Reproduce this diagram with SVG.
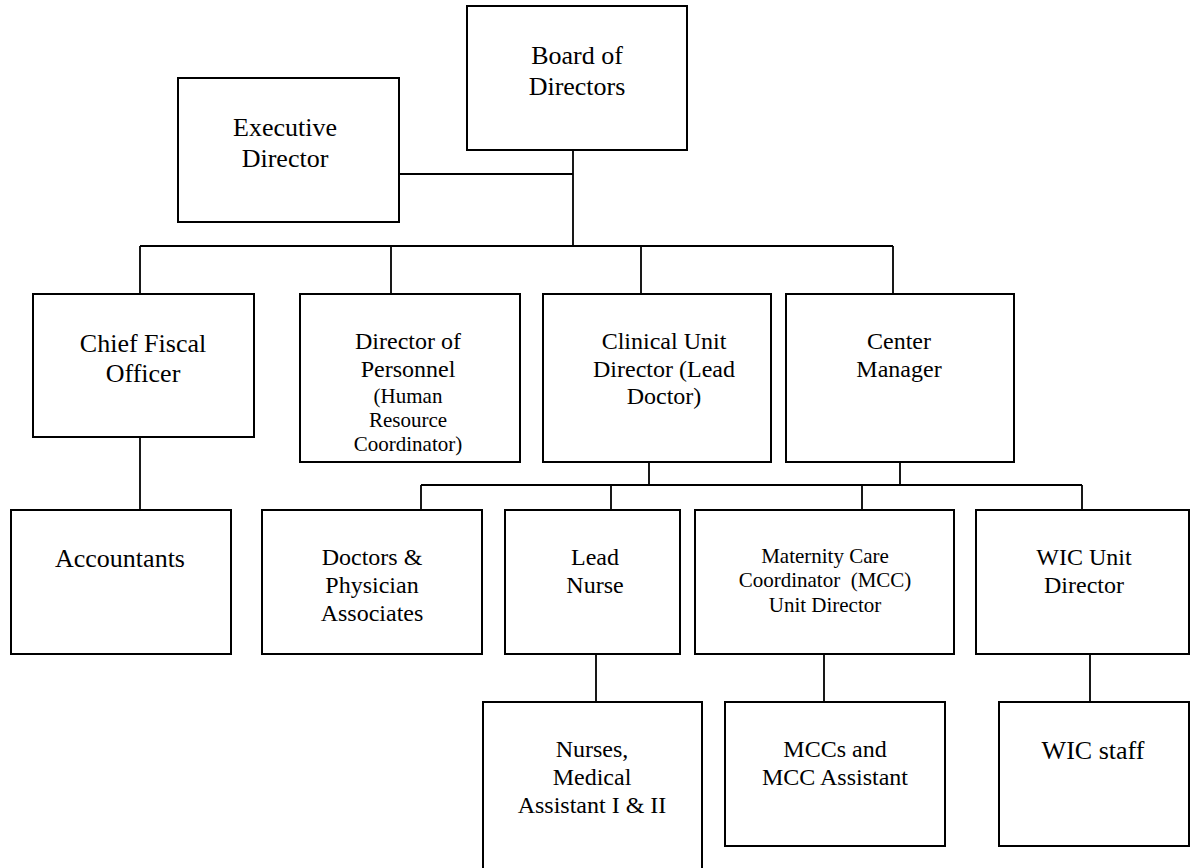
<svg xmlns="http://www.w3.org/2000/svg" width="1193" height="868" viewBox="0 0 1193 868">
<style>
.box{fill:#fff;stroke:#000;stroke-width:2}
.con{fill:none;stroke:#000;stroke-width:1.8}
text{font-family:"Liberation Serif","Times New Roman",serif;fill:#000;text-anchor:middle}
.f26{font-size:26px}
.f24{font-size:24px}
.f21{font-size:21px}
</style>
<rect width="1193" height="868" fill="#fff"/>
<g id="connectors">
<path class="con" d="M399 174H573M573 150V246M140 246H893M140 246V294M391 246V294M641 246V294M893 246V294"/>
<path class="con" d="M140 437V510"/>
<path class="con" d="M649 462V485M900 462V485M421 485H1082M421 485V510M611 485V510M862 485V510M1082 485V510"/>
<path class="con" d="M596 654V702M824 654V702M1090 654V702"/>
</g>
<g id="board"><rect class="box" x="467" y="6" width="220" height="144"/><text class="f26" x="577" y="64">Board of</text><text class="f26" x="577" y="95">Directors</text></g>
<g id="executive"><rect class="box" x="178" y="78" width="221" height="144"/><text class="f26" x="285" y="136">Executive</text><text class="f26" x="285" y="167">Director</text></g>
<g id="chief-fiscal"><rect class="box" x="33" y="294" width="221" height="143"/><text class="f26" x="143" y="352">Chief Fiscal</text><text class="f26" x="143" y="382">Officer</text></g>
<g id="director-personnel"><rect class="box" x="300" y="294" width="220" height="168"/><text class="f24" x="408" y="349">Director of</text><text class="f24" x="408" y="377">Personnel</text><text class="f21" x="408" y="403">(Human</text><text class="f21" x="408" y="427">Resource</text><text class="f21" x="408" y="451">Coordinator)</text></g>
<g id="clinical"><rect class="box" x="543" y="294" width="228" height="168"/><text class="f24" x="664" y="349">Clinical Unit</text><text class="f24" x="664" y="377">Director (Lead</text><text class="f24" x="664" y="404">Doctor)</text></g>
<g id="center-manager"><rect class="box" x="786" y="294" width="228" height="168"/><text class="f24" x="899" y="349">Center</text><text class="f24" x="899" y="377">Manager</text></g>
<g id="accountants"><rect class="box" x="11" y="510" width="220" height="144"/><text class="f26" x="120" y="567">Accountants</text></g>
<g id="doctors"><rect class="box" x="262" y="510" width="220" height="144"/><text class="f24" x="372" y="565">Doctors &amp;</text><text class="f24" x="372" y="593">Physician</text><text class="f24" x="372" y="621">Associates</text></g>
<g id="lead-nurse"><rect class="box" x="505" y="510" width="175" height="144"/><text class="f24" x="595" y="565">Lead</text><text class="f24" x="595" y="593">Nurse</text></g>
<g id="mcc-director"><rect class="box" x="695" y="510" width="259" height="144"/><text class="f21" x="825" y="563">Maternity Care</text><text class="f21" x="825" y="587" xml:space="preserve">Coordinator  (MCC)</text><text class="f21" x="825" y="612">Unit Director</text></g>
<g id="wic-director"><rect class="box" x="976" y="510" width="213" height="144"/><text class="f24" x="1084" y="565">WIC Unit</text><text class="f24" x="1084" y="593">Director</text></g>
<g id="nurses"><rect class="box" x="483" y="702" width="219" height="180"/><text class="f24" x="592" y="757">Nurses,</text><text class="f24" x="592" y="785">Medical</text><text class="f24" x="592" y="813">Assistant I &amp; II</text></g>
<g id="mccs"><rect class="box" x="725" y="702" width="220" height="144"/><text class="f24" x="835" y="757">MCCs and</text><text class="f24" x="835" y="785">MCC Assistant</text></g>
<g id="wic-staff"><rect class="box" x="999" y="702" width="190" height="144"/><text class="f26" x="1093" y="759">WIC staff</text></g>
</svg>
